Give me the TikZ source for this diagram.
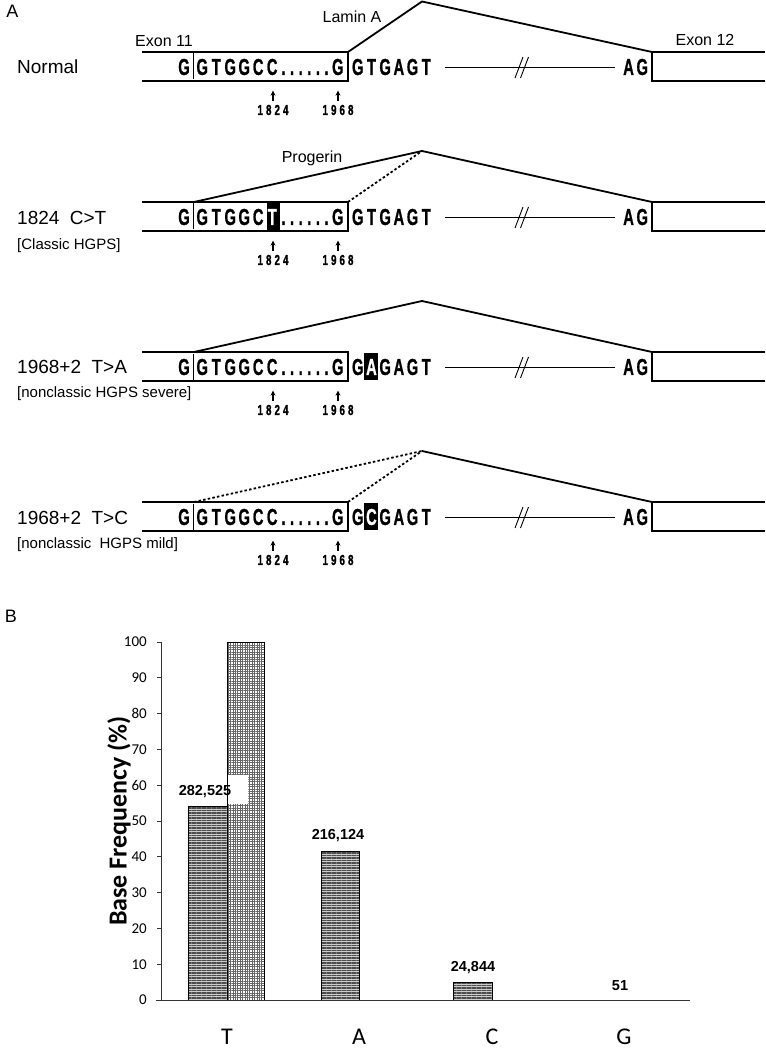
\documentclass[tikz,border=0pt]{standalone}
\usepackage{fontspec}
\usepackage{graphicx}
\setmainfont{Liberation Sans}
\newfontfamily\calfont{Carlito}
\newfontfamily\seqfont{Liberation Sans Bold}[FakeBold=1.2]
\usetikzlibrary{arrows.meta,patterns.meta}

\newcommand\sL[1]{\makebox[14pt]{\scalebox{0.64}[1]{#1}}}
\newcommand\sO[1]{\makebox[13.7pt]{\scalebox{0.64}[1]{#1}}}
\newcommand\sD{\makebox[8.6pt]{\scalebox{0.64}[1]{.}}}
\newcommand\nD[1]{\makebox[8.5pt]{\scalebox{0.68}[1]{#1}}}
\newcommand\wh[1]{\textcolor{white}{#1}}

\tikzset{
  exon/.style={line width=2.6pt, line join=miter},
  splice/.style={line width=1.8pt, line join=miter},
  dotsplice/.style={line width=1.8pt, dash pattern=on 2.5pt off 2.2pt},
  intron/.style={line width=0.9pt},
  seq/.style={inner sep=0pt, font=\seqfont\fontsize{23}{23}\selectfont},
  num/.style={inner sep=0pt, font=\seqfont\fontsize{14.5}{14.5}\selectfont},
  lbl/.style={inner sep=0pt, anchor=west, font=\fontsize{19}{22}\selectfont},
  sublbl/.style={inner sep=0pt, anchor=west, font=\fontsize{15}{18}\selectfont},
  small/.style={inner sep=0pt, font=\fontsize{16}{18}\selectfont},
  panel/.style={inner sep=0pt, font=\fontsize{18}{20}\selectfont},
  uparrow/.style={-{Stealth[length=5pt,width=5pt]}, line width=1.1pt},
  ticklbl/.style={inner sep=0pt, anchor=east, font=\calfont\fontsize{15}{15}\selectfont},
  xlbl/.style={inner sep=0pt, anchor=base, font=\calfont\fontsize{24}{24}\selectfont},
  val/.style={inner sep=0pt, font=\fontsize{14.5}{15}\selectfont\bfseries},
  axis/.style={line width=0.9pt, black!80},
  barline/.style={line width=0.8pt},
  stripes/.style={pattern={Lines[angle=0,distance=2.5pt,line width=1.2pt]}, pattern color=black!70},
  gridfill/.style={pattern={Hatch[angle=0,distance=2.4pt,line width=0.5pt]}, pattern color=black!60},
}

% #1 id, #2 top y, #3 inner sequence, #4 outer sequence
\newcommand\generow[4]{%
  \draw[exon] (142,#2) -- (348,#2) -- (348,#2+29) -- (142,#2+29);
  \draw[exon] (765,#2) -- (652,#2) -- (652,#2+29) -- (765,#2+29);
  \draw[line width=0.6pt] (193,#2+1.5) -- (193,#2+27.5);
  \node[seq] (gA#1) at (184,#2+15) {\sL G};
  \node[seq,anchor=west] (gB#1) at (195,#2+15) {#3};
  \node[seq,anchor=west] (gC#1) at (350.7,#2+15) {#4};
  \node[seq,anchor=west] (gD#1) at (621.5,#2+15) {\sO A\sO G};
  \node[num] (pa#1) at (273,#2+58) {\nD1\nD8\nD2\nD4};
  \node[num] (pb#1) at (338,#2+58) {\nD1\nD9\nD6\nD8};
  \draw[uparrow] ([yshift=4pt]pa#1.north) -- ++(0,-10);
  \draw[uparrow] ([yshift=4pt]pb#1.north) -- ++(0,-10);
  \coordinate (ia#1) at (445,#2+15);
  \coordinate (ib#1) at (615,#2+15);
  \draw[intron] (ia#1) -- (ib#1);
  \draw[intron] (515,#2+26) -- (523,#2+5);
  \draw[intron] (520.5,#2+26) -- (528.5,#2+5);
}

\begin{document}
\begin{tikzpicture}[x=1pt,y=-1pt]
\useasboundingbox (0,0) rectangle (765,1048);

% ---------- Panel A ----------
\node[panel] (pA) at (12.5,11.5) {A};

% Row 1: Normal
\node[lbl] (r1) at (17,67) {Normal};
\node[small] (ex11) at (164,41) {Exon 11};
\node[small] (ex12) at (705,40) {Exon 12};
\node[small] (lam) at (352,17) {Lamin A};
\generow{1}{52}{\sL G\sL T\sL G\sL G\sL C\sL C\sD\sD\sD\sD\sD\sD\sL G}{\sO G\sO T\sO G\sO A\sO G\sO T}
\coordinate (pk1) at (422,1.5);
\draw[splice] (348,52) -- (pk1) -- (652,52);

% Row 2: 1824 C>T
\node[lbl] (r2) at (17,218) {1824\hspace{0.55em}C>T};
\node[sublbl] (r2s) at (17,246) {[Classic HGPS]};
\node[small] (prog) at (312,158) {Progerin};
\fill[black] (266.5,202) rectangle (280,231);
\generow{2}{202}{\sL G\sL T\sL G\sL G\sL C\sL{\wh{T}}\sD\sD\sD\sD\sD\sD\sL G}{\sO G\sO T\sO G\sO A\sO G\sO T}
\coordinate (pk2) at (422,151);
\draw[splice] (194,202) -- (pk2) -- (652,202);
\draw[dotsplice] (348,202) -- (pk2);

% Row 3: 1968+2 T>A
\node[lbl] (r3) at (17,367) {1968+2\hspace{0.55em}T>A};
\node[sublbl] (r3s) at (17,394) {[nonclassic HGPS severe]};
\fill[black] (364,353) rectangle (378,380);
\generow{3}{352}{\sL G\sL T\sL G\sL G\sL C\sL C\sD\sD\sD\sD\sD\sD\sL G}{\sO G\sO{\wh{A}}\sO G\sO A\sO G\sO T}
\coordinate (pk3) at (422,301);
\draw[splice] (194,352) -- (pk3) -- (652,352);

% Row 4: 1968+2 T>C
\node[lbl] (r4) at (17,518) {1968+2\hspace{0.55em}T>C};
\node[sublbl] (r4s) at (17,545) {[nonclassic\hspace{0.55em}HGPS mild]};
\fill[black] (364,503) rectangle (378,530);
\generow{4}{502}{\sL G\sL T\sL G\sL G\sL C\sL C\sD\sD\sD\sD\sD\sD\sL G}{\sO G\sO{\wh{C}}\sO G\sO A\sO G\sO T}
\coordinate (pk4) at (422,451);
\draw[dotsplice] (194,502) -- (pk4);
\draw[dotsplice] (348,502) -- (pk4);
\draw[splice] (pk4) -- (652,502);

% ---------- Panel B ----------
\node[panel] (pB) at (11,616) {B};

% bars
\fill[gray!40] (188,1000) rectangle (227,806);
\fill[stripes] (188,1000) rectangle (227,806);
\draw[barline] (188,1000) rectangle (227,806);

\fill[white] (227,1000) rectangle (264,642);
\fill[gridfill] (227,1000) rectangle (264,642);
\draw[barline] (227,1000) rectangle (264,642);
\fill[white] (227.5,775) rectangle (248,804);

\fill[gray!40] (321,1000) rectangle (359,851);
\fill[stripes] (321,1000) rectangle (359,851);
\draw[barline] (321,1000) rectangle (359,851);

\fill[gray!40] (453,1000) rectangle (492,982);
\fill[stripes] (453,1000) rectangle (492,982);
\draw[barline] (453,1000) rectangle (492,982);

% axes
\draw[axis] (161,642) -- (161,1000);
\draw[axis] (156,1000) -- (690,1000);
\foreach \k/\v in {0/0,1/10,2/20,3/30,4/40,5/50,6/60,7/70,8/80,9/90,10/100}{
  \draw[axis] (157,1000-35.8*\k) -- (161,1000-35.8*\k);
  \node[ticklbl] (tk\k) at (147,1000-35.8*\k) {\v};
}
\node[rotate=90, inner sep=0pt, font=\calfont\fontsize{26}{26}\selectfont\bfseries] (ytitle) at (119,821) {Base Frequency (\%)};

% value labels
\node[val] (v1) at (205,792) {282,525};
\node[val] (v2) at (338,836) {216,124};
\node[val] (v3) at (473,968) {24,844};
\node[val] (v4) at (620,986) {51};

% x labels
\node[xlbl] (xT) at (227,1044) {T};
\node[xlbl] (xA) at (359,1044) {A};
\node[xlbl] (xC) at (492,1044) {C};
\node[xlbl] (xG) at (624,1044) {G};
\end{tikzpicture}
\end{document}
